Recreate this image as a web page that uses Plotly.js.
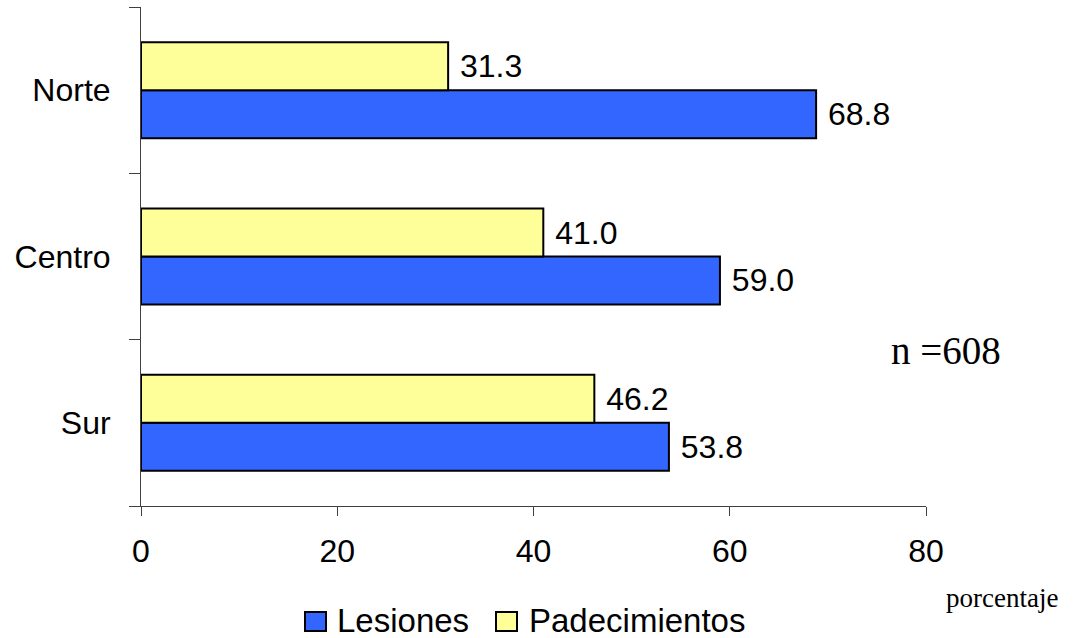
<!DOCTYPE html>
<html>
<head>
<meta charset="utf-8">
<script src="https://cdn.plot.ly/plotly-3.0.1.min.js"></script>
<style>
  html, body { margin: 0; padding: 0; background: #ffffff; }
  #chart { width: 1074px; height: 638px; }
</style>
</head>
<body>
<div id="chart"></div>
<script>
// Regions and percentages per type of case
const categories = ['Norte', 'Centro', 'Sur'];
const lesiones = [68.8, 59.0, 53.8];
const padecimientos = [31.3, 41.0, 46.2];
const seriesNames = ['Lesiones', 'Padecimientos'];
const xTickValues = [0, 20, 40, 60, 80];
const sampleNote = 'n =608';
const xAxisNote = 'porcentaje';

const W = 1074, H = 638;
const M = { l: 141, r: 148, t: 7, b: 132 };
const plotW = W - M.l - M.r;
const plotH = H - M.t - M.b;
// pixel position -> paper coordinates
const px = x => (x - M.l) / plotW;
const py = y => (H - M.b - y) / plotH;

const SANS = 'Liberation Sans, Arial, sans-serif';
const SERIF = 'Liberation Serif, Times New Roman, serif';
const BLUE = '#3366FF';
const YELLOW = '#FFFF99';

const barCommon = {
  type: 'bar',
  orientation: 'h',
  textposition: 'outside',
  texttemplate: '\u00a0%{x:.1f}',
  textfont: { family: SANS, size: 32, color: '#000000' },
  constraintext: 'none',
  cliponaxis: false,
  showlegend: false,
  hoverinfo: 'x+y+name'
};

const traces = [
  Object.assign({}, barCommon, {
    name: seriesNames[0],
    y: categories,
    x: lesiones,
    marker: { color: BLUE, line: { color: '#000000', width: 2 } }
  }),
  Object.assign({}, barCommon, {
    name: seriesNames[1],
    y: categories,
    x: padecimientos,
    marker: { color: YELLOW, line: { color: '#000000', width: 2 } }
  })
];

// Legend drawn as swatches + labels under the axis
const legendItems = [
  { name: seriesNames[0], color: BLUE, x0: 305, x1: 326, tx: 335 },
  { name: seriesNames[1], color: YELLOW, x0: 496, x1: 517, tx: 527 }
];
const legendTop = 612, legendBottom = 631, legendMid = 620;

const shapes = legendItems.map(it => ({
  type: 'rect', xref: 'paper', yref: 'paper',
  x0: px(it.x0), x1: px(it.x1), y0: py(legendBottom), y1: py(legendTop),
  fillcolor: it.color, line: { color: '#000000', width: 2 }
}));

const annotations = legendItems.map(it => ({
  xref: 'paper', yref: 'paper', x: px(it.tx), y: py(legendMid),
  xanchor: 'left', yanchor: 'middle', showarrow: false,
  text: it.name, font: { family: SANS, size: 33, color: '#000000' }
}));
annotations.push({
  xref: 'paper', yref: 'paper', x: px(889), y: py(350),
  xanchor: 'left', yanchor: 'middle', showarrow: false,
  text: sampleNote, font: { family: SERIF, size: 39, color: '#000000' }
});
annotations.push({
  xref: 'paper', yref: 'paper', x: px(1002), y: py(598),
  xanchor: 'center', yanchor: 'middle', showarrow: false,
  text: xAxisNote, font: { family: SERIF, size: 27, color: '#000000' }
});

const layout = {
  width: W, height: H,
  margin: M,
  paper_bgcolor: '#ffffff',
  plot_bgcolor: '#ffffff',
  barmode: 'group',
  bargap: 0.423,
  bargroupgap: 0,
  showlegend: false,
  xaxis: {
    range: [0, 80],
    tickvals: xTickValues,
    ticks: 'outside', ticklen: 9, tickwidth: 1, tickcolor: '#404040',
    showline: true, linecolor: '#404040', linewidth: 1,
    showgrid: false, zeroline: false,
    ticklabelstandoff: 8,
    tickfont: { family: SANS, size: 32, color: '#000000' }
  },
  yaxis: {
    type: 'category',
    categoryorder: 'array',
    categoryarray: categories.slice().reverse(),
    tickson: 'boundaries',
    ticks: 'outside', ticklen: 11, tickwidth: 1, tickcolor: '#404040',
    showline: true, linecolor: '#404040', linewidth: 1,
    showgrid: false, zeroline: false,
    ticklabelstandoff: 23,
    tickfont: { family: SANS, size: 32, color: '#000000' }
  },
  shapes: shapes,
  annotations: annotations
};

Plotly.newPlot('chart', traces, layout, { displayModeBar: false, staticPlot: true });
</script>
</body>
</html>
